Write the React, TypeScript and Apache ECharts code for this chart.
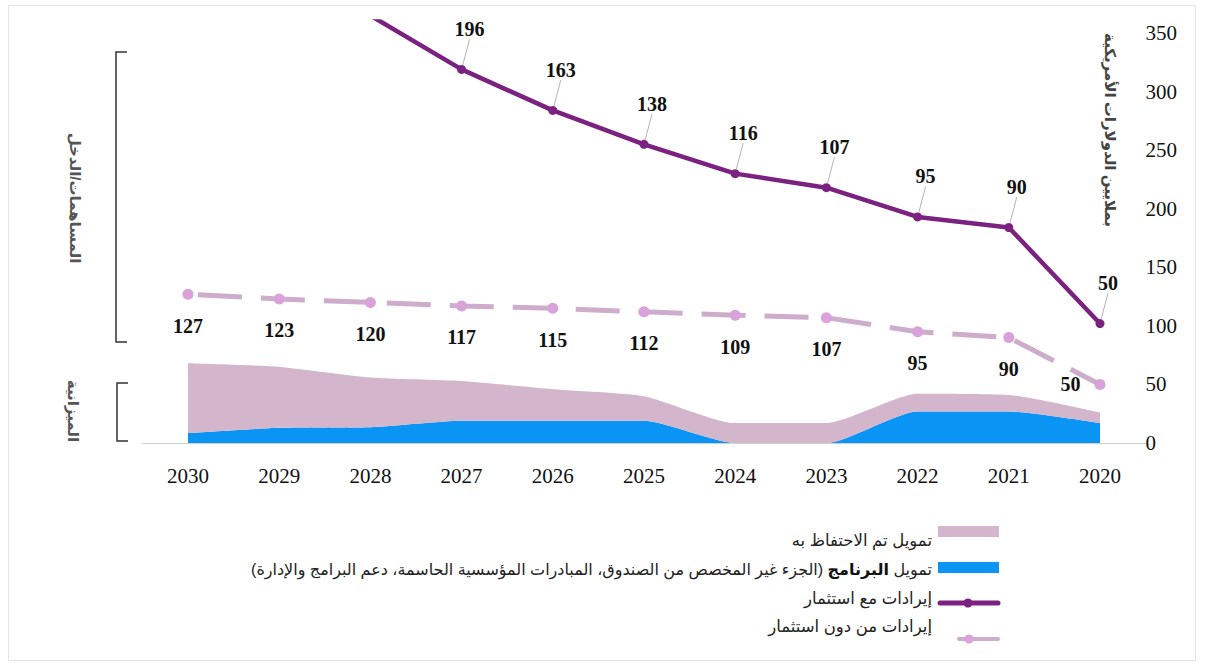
import React, { useEffect, useRef } from "react";
import * as echarts from "echarts";

// ---------- data ----------
const years = ["2030", "2029", "2028", "2027", "2026", "2025", "2024", "2023", "2022", "2021", "2020"];

// stacked areas (USD millions)
const programFunding = [8.5, 13, 13.5, 19, 19, 19, 0, 0, 27, 27, 17];
const retainedFunding = [59.5, 52, 42.5, 34, 27, 21, 17, 17, 15, 14, 9];

// revenue with investment: plotted position and printed value
const withInvestment = [null, null, 365, 319, 284, 255, 230, 218, 193, 184, 102];
const withInvestmentLabels = [null, null, null, 196, 163, 138, 116, 107, 95, 90, 50];

// revenue without investment
const withoutInvestment = [127, 123, 120, 117, 115, 112, 109, 107, 95, 90, 50];

const yTicks = { min: 0, max: 360, interval: 50 };

const legendItems = {
  retained: "تمويل تم الاحتفاظ به",
  programPrefix: "تمويل",
  programBold: "البرنامج",
  programRest: "(الجزء غير المخصص من الصندوق، المبادرات المؤسسية الحاسمة، دعم البرامج والإدارة)",
  withInv: "إيرادات مع استثمار",
  withoutInv: "إيرادات من دون استثمار",
};

const leftTitleTop = "المساهمات/الدخل";
const leftTitleBottom = "الميزانية";
const rightTitle = "بملايين الدولارات الأمريكية";

// ---------- styles ----------
const C_PINK = "#d3b5cc";
const C_BLUE = "#0a95f5";
const C_PURPLE = "#7b2180";
const C_LIGHT_LINE = "#cdaccc";
const C_LIGHT_DOT = "#d9a2da";
const SERIF = "'Liberation Serif', 'Times New Roman', serif";
const SANS = "'Liberation Sans', 'DejaVu Sans', sans-serif";

export default function App() {
  const ref = useRef<HTMLDivElement>(null);

  useEffect(() => {
    if (!ref.current) return;
    const chart = echarts.init(ref.current, undefined, { renderer: "svg" });

    const lastIdx = withoutInvestment.length - 1;
    const dashedData = withoutInvestment.map((v, i) =>
      i === lastIdx
        ? { value: v, label: { position: "left", distance: 14 } }
        : v
    );

    const option: any = {
      animation: false,
      backgroundColor: "#ffffff",
      grid: { left: 142.4, right: 60.4, top: 21.4, bottom: 228 },
      xAxis: {
        type: "category",
        data: years,
        boundaryGap: true,
        axisLine: { lineStyle: { color: "#cfcfcf", width: 1 } },
        axisTick: { show: false },
        axisLabel: { margin: 22, fontSize: 21, color: "#111", fontFamily: SERIF },
      },
      yAxis: {
        type: "value",
        position: "right",
        min: yTicks.min,
        max: yTicks.max,
        interval: yTicks.interval,
        splitLine: { show: false },
        axisLine: { show: false },
        axisTick: { show: false },
        axisLabel: { showMaxLabel: false, margin: 0, fontSize: 21, color: "#111", fontFamily: SERIF },
      },
      series: [
        {
          name: legendItems.programBold,
          type: "line",
          stack: "funds",
          data: programFunding,
          smooth: 0.2,
          symbol: "none",
          lineStyle: { width: 0 },
          areaStyle: { color: C_BLUE, opacity: 1 },
          z: 1,
        },
        {
          name: legendItems.retained,
          type: "line",
          stack: "funds",
          data: retainedFunding,
          smooth: 0.2,
          symbol: "none",
          lineStyle: { width: 0 },
          areaStyle: { color: C_PINK, opacity: 1 },
          z: 1,
        },
        {
          name: legendItems.withoutInv,
          type: "line",
          data: dashedData,
          symbol: "circle",
          symbolSize: 11,
          itemStyle: { color: C_LIGHT_DOT },
          lineStyle: { color: C_LIGHT_LINE, width: 5, type: [44, 19], dashOffset: 53 },
          label: {
            show: true,
            position: "bottom",
            distance: 16,
            fontSize: 20,
            fontWeight: "bold",
            fontFamily: SERIF,
            color: "#111",
          },
          z: 3,
        },
        {
          name: legendItems.withInv,
          type: "line",
          data: withInvestment,
          symbol: "circle",
          symbolSize: 9,
          itemStyle: { color: C_PURPLE },
          lineStyle: { color: C_PURPLE, width: 4.5 },
          clip: true,
          label: {
            show: true,
            position: "top",
            distance: 4,
            fontSize: 20,
            fontWeight: "bold",
            fontFamily: SERIF,
            color: "#111",
            formatter: (p: any) => {
              const v = withInvestmentLabels[p.dataIndex];
              return v == null ? "" : String(v);
            },
          },
          labelLayout: { dx: 8, dy: -22 },
          labelLine: { show: true, lineStyle: { color: "#b4b4b4", width: 1 } },
          z: 4,
        },
      ],
      graphic: [
        {
          type: "rect",
          shape: { x: 8.5, y: 5.5, width: 1187, height: 655 },
          style: { fill: "none", stroke: "#e4e4e4", lineWidth: 1 },
          silent: true,
        },
        {
          type: "polyline",
          shape: { points: [[127, 52], [116, 52], [116, 342], [127, 342]] },
          style: { fill: "none", stroke: "#333", lineWidth: 1.5 },
        },
        {
          type: "polyline",
          shape: { points: [[128, 383], [117, 383], [117, 441], [128, 441]] },
          style: { fill: "none", stroke: "#333", lineWidth: 1.5 },
        },
        {
          type: "text",
          x: 75,
          y: 198,
          rotation: -Math.PI / 2,
          style: {
            text: leftTitleTop,
            fontSize: 15,
            fontWeight: "bold",
            fontFamily: SANS,
            fill: "#555",
            align: "center",
            verticalAlign: "middle",
          },
        },
        {
          type: "text",
          x: 73,
          y: 411,
          rotation: -Math.PI / 2,
          style: {
            text: leftTitleBottom,
            fontSize: 15,
            fontWeight: "bold",
            fontFamily: SANS,
            fill: "#555",
            align: "center",
            verticalAlign: "middle",
          },
        },
        {
          type: "text",
          x: 1110,
          y: 130,
          rotation: -Math.PI / 2,
          style: {
            text: rightTitle,
            fontSize: 15,
            fontWeight: "bold",
            fontFamily: SANS,
            fill: "#444",
            align: "center",
            verticalAlign: "middle",
          },
        },
        // legend icons
        { type: "rect", shape: { x: 938, y: 526, width: 61, height: 11 }, style: { fill: C_PINK } },
        { type: "rect", shape: { x: 938, y: 562, width: 61, height: 11 }, style: { fill: C_BLUE } },
        {
          type: "line",
          shape: { x1: 940, y1: 603, x2: 998, y2: 603 },
          style: { stroke: C_PURPLE, lineWidth: 5, lineCap: "round" },
        },
        { type: "circle", shape: { cx: 968, cy: 603, r: 4.5 }, style: { fill: C_PURPLE } },
        {
          type: "line",
          shape: { x1: 959, y1: 639, x2: 998, y2: 639 },
          style: { stroke: C_LIGHT_LINE, lineWidth: 4, lineCap: "round" },
        },
        { type: "circle", shape: { cx: 969, cy: 639, r: 4.5 }, style: { fill: C_LIGHT_DOT } },
        // legend texts
        {
          type: "text",
          x: 932,
          y: 540,
          style: { text: legendItems.retained, fontSize: 16.5, fontFamily: SANS, fill: "#222", align: "right", verticalAlign: "middle" },
        },
        {
          type: "text",
          x: 932,
          y: 569,
          style: {
            text: `{r|${legendItems.programRest}} {b|${legendItems.programBold}} {r|${legendItems.programPrefix}}`,
            fontSize: 16,
            fontFamily: SANS,
            fill: "#222",
            align: "right",
            verticalAlign: "middle",
            rich: {
              r: { fontSize: 16, fontFamily: SANS, fill: "#222" },
              b: { fontSize: 16, fontFamily: SANS, fontWeight: "bold", fill: "#111" },
            },
          },
        },
        {
          type: "text",
          x: 932,
          y: 598,
          style: { text: legendItems.withInv, fontSize: 16.5, fontFamily: SANS, fill: "#222", align: "right", verticalAlign: "middle" },
        },
        {
          type: "text",
          x: 932,
          y: 626,
          style: { text: legendItems.withoutInv, fontSize: 16.5, fontFamily: SANS, fill: "#222", align: "right", verticalAlign: "middle" },
        },
      ],
    };

    chart.setOption(option);
    return () => chart.dispose();
  }, []);

  return (
    <div
      ref={ref}
      style={{ position: "fixed", left: 0, top: 0, width: 1206, height: 671, background: "#fff" }}
    />
  );
}
